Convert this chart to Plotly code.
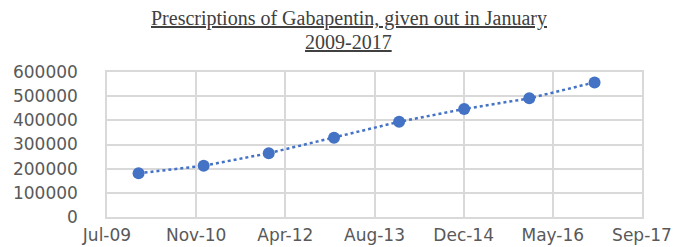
import datetime as dt
import plotly.graph_objects as go

# Data
dates = ["2010-01-01", "2011-01-01", "2012-01-01", "2013-01-01",
         "2014-01-01", "2015-01-01", "2016-01-01", "2017-01-01"]
prescriptions = [181000, 212000, 264000, 328000, 394000, 447000, 491000, 557000]

x_tick_labels = ["Jul-09", "Nov-10", "Apr-12", "Aug-13", "Dec-14", "May-16", "Sep-17"]
y_tick_values = [0, 100000, 200000, 300000, 400000, 500000, 600000]

title_lines = ["Prescriptions of Gabapentin, given out in January", "2009-2017"]

axis_start = dt.date(2009, 7, 8)
tick_step_days = 500
x_tick_values = [(axis_start + dt.timedelta(days=tick_step_days * i)).isoformat()
                 for i in range(len(x_tick_labels))]

fig = go.Figure()
fig.add_trace(go.Scatter(
    x=dates, y=prescriptions, mode="lines+markers",
    line=dict(color="#4472C4", width=2.5, dash="dot"),
    marker=dict(color="#4472C4", size=12),
    showlegend=False,
))

grid = "#d9d9d9"
tick_font = dict(family="DejaVu Sans", size=17, color="#595959")
title_font = dict(family="Liberation Serif", size=20, color="#404040")

# page has an 8px body margin, so the figure is sized/offset to compensate
fig.update_layout(
    width=672, height=239,
    margin=dict(l=99, r=38, t=64, b=30),
    paper_bgcolor="white", plot_bgcolor="white",
    xaxis=dict(
        type="date", automargin=False,
        range=[x_tick_values[0], x_tick_values[-1]],
        tickmode="array", tickvals=x_tick_values, ticktext=x_tick_labels,
        showgrid=True, gridcolor=grid, gridwidth=1.5,
        showline=True, linecolor=grid, linewidth=1.5, mirror=True,
        ticks="", ticklabelstandoff=2, tickfont=tick_font,
        zeroline=False,
    ),
    yaxis=dict(
        range=[0, 600000], automargin=False,
        tickmode="array", tickvals=y_tick_values,
        ticktext=[str(v) for v in y_tick_values],
        showgrid=True, gridcolor=grid, gridwidth=1.5,
        showline=True, linecolor=grid, linewidth=1.5, mirror=True,
        ticks="", ticklabelstandoff=24, tickfont=tick_font,
        zeroline=False,
    ),
    annotations=[
        dict(text="<u>" + title_lines[0] + "</u>", xref="paper", yref="paper",
             x=0.452, y=1.366, xanchor="center", yanchor="middle",
             showarrow=False, font=title_font),
        dict(text="<u>" + title_lines[1] + "</u>", xref="paper", yref="paper",
             x=0.452, y=1.207, xanchor="center", yanchor="middle",
             showarrow=False, font=title_font),
    ],
)

fig.write_html("out.html")
